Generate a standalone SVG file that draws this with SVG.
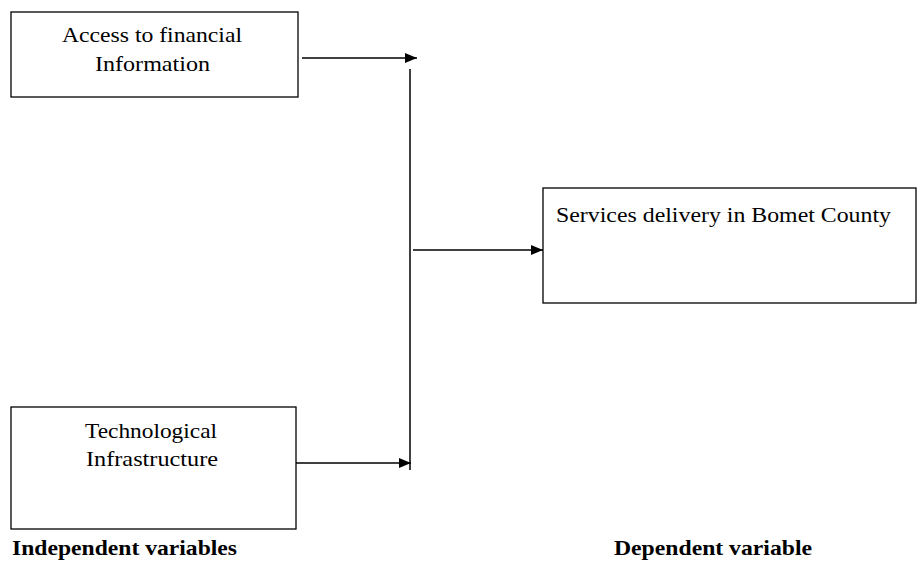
<svg xmlns="http://www.w3.org/2000/svg" width="917" height="562" viewBox="0 0 917 562">
<style>
.box{fill:#fff;stroke:#000;stroke-width:1.3}
.t{font-family:"Liberation Serif","Times New Roman",serif;font-size:21px;fill:#000}
.b{font-family:"Liberation Serif","Times New Roman",serif;font-size:21px;font-weight:bold;fill:#000}
.ln{stroke:#000;stroke-width:1.5;fill:none}
</style>
<defs>
<marker id="ah" markerWidth="12" markerHeight="10" refX="12" refY="5" orient="auto" markerUnits="userSpaceOnUse">
<path d="M0,0 L12,5 L0,10 Z" fill="#000"/>
</marker>
</defs>
<rect width="917" height="562" fill="#fff"/>
<g id="node-access">
<rect class="box" x="11" y="12" width="287" height="85"/>
<text class="t" x="62" y="42" textLength="180" lengthAdjust="spacingAndGlyphs">Access to financial</text>
<text class="t" x="95" y="71" textLength="115" lengthAdjust="spacingAndGlyphs">Information</text>
</g>
<g id="node-tech">
<rect class="box" x="11" y="407" width="285" height="122"/>
<text class="t" x="85" y="438" textLength="132" lengthAdjust="spacingAndGlyphs">Technological</text>
<text class="t" x="86" y="466" textLength="132" lengthAdjust="spacingAndGlyphs">Infrastructure</text>
</g>
<g id="node-services">
<rect class="box" x="543" y="188" width="373" height="115"/>
<text class="t" x="556" y="222" textLength="335" lengthAdjust="spacingAndGlyphs">Services delivery in Bomet County</text>
</g>
<g id="label-independent">
<text class="b" x="12" y="555" textLength="225" lengthAdjust="spacingAndGlyphs">Independent variables</text>
</g>
<g id="label-dependent">
<text class="b" x="614" y="555" textLength="198" lengthAdjust="spacingAndGlyphs">Dependent variable</text>
</g>
<g id="connectors">
<line class="ln" x1="302" y1="58" x2="417" y2="58" marker-end="url(#ah)"/>
<line class="ln" x1="410" y1="69" x2="410" y2="470"/>
<line class="ln" x1="296" y1="463" x2="411" y2="463" marker-end="url(#ah)"/>
<line class="ln" x1="413" y1="250" x2="543" y2="250" marker-end="url(#ah)"/>
</g>
</svg>
